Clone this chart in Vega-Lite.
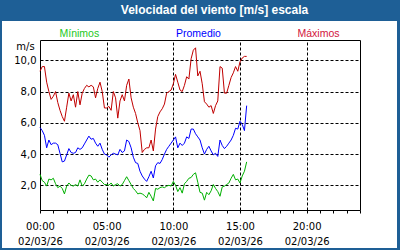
{
 "$schema": "https://vega.github.io/schema/vega-lite/v6.json",
 "width": 395, "height": 227,
 "autosize": {"type": "none"},
 "padding": {"left": 2, "right": 3, "top": 21, "bottom": 2},
 "background": "#1E5F96",
 "config": {"view": {"fill": "white", "stroke": null}, "font": "DejaVu Sans"},
 "title": {"text": "Velocidad del viento [m/s] escala", "font": "Liberation Sans", "fontSize": 12, "fontWeight": "bold", "color": "white", "anchor": "middle", "dx": 15, "offset": 4},
 "data": {"values": [
  {"t":0,"min":2.7,"avg":5.7,"max":9.3},
  {"t":10,"min":2.3,"avg":5.5,"max":9.6},
  {"t":20,"min":2.2,"avg":5.2,"max":9.6},
  {"t":30,"min":1.95,"avg":4.4,"max":8.6},
  {"t":40,"min":2.4,"avg":4.9,"max":8.0},
  {"t":50,"min":2.35,"avg":4.6,"max":7.5},
  {"t":60,"min":2.45,"avg":4.7,"max":7.7},
  {"t":70,"min":2.1,"avg":4.7,"max":8.0},
  {"t":80,"min":1.85,"avg":4.6,"max":7.3},
  {"t":90,"min":1.95,"avg":4.05,"max":6.8},
  {"t":100,"min":1.8,"avg":3.5,"max":6.4},
  {"t":110,"min":1.45,"avg":3.55,"max":6.1},
  {"t":120,"min":1.95,"avg":3.95,"max":7.0},
  {"t":130,"min":2.15,"avg":4.35,"max":7.9},
  {"t":140,"min":2.0,"avg":4.1,"max":7.4},
  {"t":150,"min":1.95,"avg":4.05,"max":7.8},
  {"t":160,"min":2.05,"avg":4.1,"max":7.0},
  {"t":170,"min":1.95,"avg":4.4,"max":8.0},
  {"t":180,"min":2.35,"avg":4.3,"max":7.15},
  {"t":190,"min":1.95,"avg":4.4,"max":7.9},
  {"t":200,"min":2.1,"avg":4.65,"max":8.2},
  {"t":210,"min":2.4,"avg":4.9,"max":8.4},
  {"t":220,"min":2.65,"avg":5.15,"max":8.3},
  {"t":230,"min":2.6,"avg":4.95,"max":8.4},
  {"t":240,"min":2.35,"avg":5.0,"max":8.3},
  {"t":250,"min":2.4,"avg":4.7,"max":7.6},
  {"t":260,"min":2.2,"avg":4.5,"max":8.2},
  {"t":270,"min":2.35,"avg":4.7,"max":8.6},
  {"t":280,"min":2.2,"avg":4.3,"max":8.0},
  {"t":290,"min":2.05,"avg":4.0,"max":6.95},
  {"t":300,"min":2.05,"avg":3.95,"max":6.95},
  {"t":310,"min":2.0,"avg":3.8,"max":7.05},
  {"t":320,"min":2.15,"avg":3.95,"max":6.8},
  {"t":330,"min":1.95,"avg":4.05,"max":8.0},
  {"t":340,"min":2.05,"avg":4.0,"max":7.6},
  {"t":350,"min":2.1,"avg":3.95,"max":6.3},
  {"t":360,"min":1.95,"avg":4.3,"max":7.4},
  {"t":370,"min":2.05,"avg":4.1,"max":7.8},
  {"t":380,"min":2.3,"avg":4.2,"max":7.4},
  {"t":390,"min":2.55,"avg":4.9,"max":8.4},
  {"t":400,"min":2.3,"avg":4.8,"max":8.8},
  {"t":410,"min":2.05,"avg":4.4,"max":7.6},
  {"t":420,"min":1.8,"avg":3.8,"max":7.0},
  {"t":430,"min":1.65,"avg":3.45,"max":6.6},
  {"t":440,"min":1.45,"avg":3.4,"max":6.0},
  {"t":450,"min":1.5,"avg":2.9,"max":5.5},
  {"t":460,"min":1.45,"avg":2.6,"max":4.1},
  {"t":470,"min":1.35,"avg":2.4,"max":4.3},
  {"t":480,"min":1.2,"avg":2.25,"max":4.4},
  {"t":490,"min":1.55,"avg":2.55,"max":4.4},
  {"t":500,"min":1.3,"avg":2.9,"max":4.9},
  {"t":510,"min":1.0,"avg":2.47,"max":4.2},
  {"t":520,"min":1.8,"avg":3.25,"max":5.6},
  {"t":530,"min":1.75,"avg":3.45,"max":6.4},
  {"t":540,"min":1.85,"avg":3.4,"max":6.7},
  {"t":550,"min":1.9,"avg":3.65,"max":6.9},
  {"t":560,"min":1.85,"avg":4.0,"max":7.2},
  {"t":570,"min":1.95,"avg":4.3,"max":7.9},
  {"t":580,"min":2.0,"avg":4.5,"max":8.0},
  {"t":590,"min":1.95,"avg":4.7,"max":8.1},
  {"t":600,"min":2.25,"avg":4.9,"max":8.5},
  {"t":610,"min":2.0,"avg":5.1,"max":9.1},
  {"t":620,"min":1.6,"avg":4.4,"max":8.6},
  {"t":630,"min":1.85,"avg":4.7,"max":8.1},
  {"t":640,"min":1.5,"avg":4.55,"max":8.0},
  {"t":650,"min":2.1,"avg":4.7,"max":8.4},
  {"t":660,"min":2.25,"avg":5.1,"max":8.95},
  {"t":670,"min":2.45,"avg":5.0,"max":8.8},
  {"t":680,"min":2.5,"avg":5.6,"max":10.1},
  {"t":690,"min":2.7,"avg":5.6,"max":10.65},
  {"t":700,"min":2.8,"avg":5.3,"max":10.8},
  {"t":710,"min":2.2,"avg":5.1,"max":9.0},
  {"t":720,"min":1.55,"avg":4.9,"max":9.3},
  {"t":730,"min":1.5,"avg":4.4,"max":8.5},
  {"t":740,"min":1.05,"avg":4.0,"max":7.35},
  {"t":750,"min":1.55,"avg":4.3,"max":7.2},
  {"t":760,"min":1.4,"avg":4.5,"max":7.0},
  {"t":770,"min":1.65,"avg":4.2,"max":7.1},
  {"t":780,"min":2.05,"avg":3.95,"max":6.6},
  {"t":790,"min":1.8,"avg":4.05,"max":7.1},
  {"t":800,"min":1.6,"avg":3.85,"max":7.4},
  {"t":810,"min":1.3,"avg":4.9,"max":9.6},
  {"t":820,"min":1.9,"avg":4.55,"max":9.5},
  {"t":830,"min":1.95,"avg":4.35,"max":7.9},
  {"t":840,"min":2.05,"avg":4.5,"max":7.9},
  {"t":850,"min":2.15,"avg":4.7,"max":8.4},
  {"t":860,"min":2.45,"avg":4.9,"max":8.9},
  {"t":870,"min":2.7,"avg":5.2,"max":9.2},
  {"t":880,"min":2.35,"avg":5.65,"max":9.6},
  {"t":890,"min":2.4,"avg":5.6,"max":9.3},
  {"t":900,"min":2.15,"avg":6.1,"max":9.9},
  {"t":910,"min":2.6,"avg":5.9,"max":10.15},
  {"t":920,"min":2.9,"avg":5.5,"max":10.25},
  {"t":930,"min":3.5,"avg":7.1,"max":10.25}
 ]},
 "layer": [
  {
   "data": {"values": [{}]},
   "mark": {"type": "rect", "opacity": 0},
   "encoding": {
    "x": {"datum": 0, "type": "quantitative",
     "axis": {"orient": "top", "offset": -19, "labels": false, "ticks": false, "domain": true, "domainColor": "black", "grid": true, "gridColor": "black", "gridDash": [3, 2], "gridOpacity": 1, "values": [300, 600, 900, 1200], "title": null}},
    "x2": {"datum": 1440},
    "y": {"datum": 0.42, "type": "quantitative",
     "axis": {"orient": "right", "offset": -37, "labels": false, "ticks": false, "grid": false, "domain": true, "domainColor": "black", "title": null}},
    "y2": {"datum": 11.3}
   }
  },
  {
   "transform": [{"fold": ["min", "avg", "max"], "as": ["serie", "v"]}],
   "mark": {"type": "line", "strokeWidth": 1},
   "encoding": {
    "x": {"field": "t", "type": "quantitative",
     "scale": {"domain": [0, 1440], "range": [38, 358], "nice": false, "zero": false},
     "axis": {"orient": "bottom", "offset": -38, "grid": false, "domain": true, "domainColor": "black", "ticks": true, "tickColor": "black", "tickSize": 3,
      "values": [0, 60, 120, 180, 240, 300, 360, 420, 480, 540, 600, 660, 720, 780, 840, 900, 960, 1020, 1080, 1140, 1200, 1260, 1320, 1380, 1440],
      "labelExpr": "datum.value % 300 === 0 && datum.value < 1440 ? [(datum.value < 600 ? '0' : '') + (datum.value / 60) + ':00', '02/03/26'] : ''",
      "labelOverlap": false, "labelFlush": false, "labelFont": "DejaVu Sans", "labelFontSize": 10, "labelColor": "black", "labelPadding": 8, "labelLineHeight": 15.5, "title": null}},
    "y": {"field": "v", "type": "quantitative",
     "scale": {"domain": [0.42, 11.3], "range": [189, 19], "nice": false, "zero": false},
     "axis": {"orient": "left", "offset": -38, "values": [2, 4, 6, 8, 10], "grid": true, "gridColor": "black", "gridDash": [3, 2], "gridOpacity": 1, "domain": true, "domainColor": "black", "ticks": false, "tickSize": 0,
      "labelExpr": "replace(format(datum.value, '.1f'), '.', ',')", "labelFont": "DejaVu Sans", "labelFontSize": 10, "labelColor": "black", "labelPadding": 4,
      "title": "m/s", "titleAngle": 0, "titleX": -15, "titleY": 25, "titleAlign": "center", "titleBaseline": "middle", "titleFont": "DejaVu Sans", "titleFontSize": 10, "titleFontWeight": "normal", "titleColor": "black"}},
    "color": {"field": "serie", "type": "nominal",
     "scale": {"domain": ["min", "avg", "max"], "range": ["#00B000", "#0000FF", "#C00000"]},
     "legend": {"orient": "none", "legendX": 47, "legendY": 8, "direction": "horizontal", "title": null, "symbolSize": 0, "symbolStrokeWidth": 0, "symbolOpacity": 0, "labelOffset": 0, "columnPadding": 65.5, "gridAlign": "each", "padding": 0, "labelFont": "Liberation Sans", "labelFontSize": 10.5,
      "labelExpr": "datum.value === 'min' ? 'Mínimos' : datum.value === 'avg' ? 'Promedio' : 'Máximos'",
      "encode": {"labels": {"update": {"fill": {"signal": "datum.value === 'min' ? '#22C822' : datum.value === 'avg' ? '#0000FF' : '#D2143C'"}}}}}}
   }
  }
 ],
 "resolve": {"axis": {"x": "independent", "y": "independent"}}
}
